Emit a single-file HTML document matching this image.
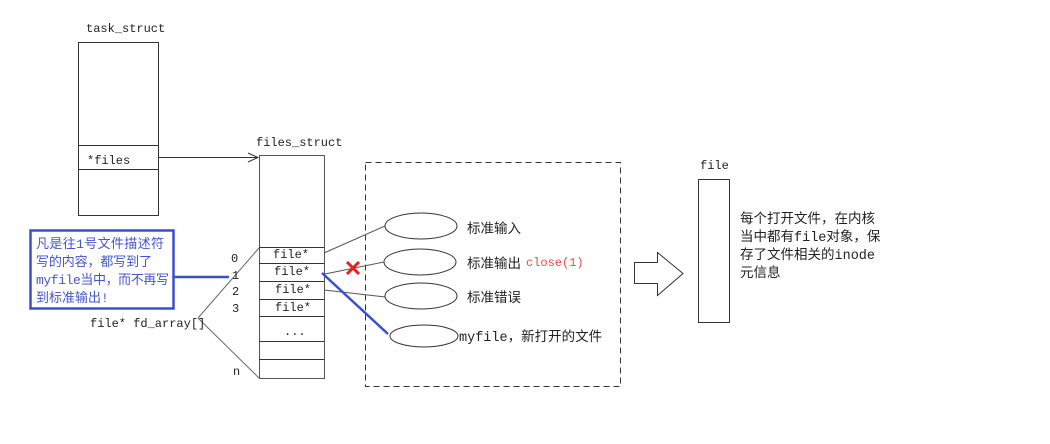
<!DOCTYPE html>
<html><head><meta charset="utf-8"><style>
html,body{margin:0;padding:0;background:#fff}
svg text{font-family:"Liberation Mono","Noto Sans CJK SC",monospace;font-size:12px;fill:#222}
.c{font-family:"Liberation Mono","Noto Sans CJK SC",monospace;font-size:13.5px}
.b{font-family:"Liberation Mono","Noto Sans CJK SC",monospace;font-size:13px;fill:#4455cc}
</style></head><body>
<svg width="1050" height="439" viewBox="0 0 1050 439" xmlns="http://www.w3.org/2000/svg">
<g fill="none" stroke="#333" stroke-width="1">
<rect x="78.5" y="42.5" width="80" height="173"/>
<line x1="78" y1="145.5" x2="158" y2="145.5"/>
<line x1="78" y1="169.5" x2="158" y2="169.5"/>
<line x1="158" y1="157.5" x2="258" y2="157.5"/>
<path d="M248 153 L258 157.5 L248 162"/>
<rect x="259.5" y="155.5" width="65" height="223" stroke="#555"/>
<line x1="259" y1="247.5" x2="324" y2="247.5"/>
<line x1="259" y1="263.5" x2="324" y2="263.5"/>
<line x1="259" y1="281.5" x2="324" y2="281.5"/>
<line x1="259" y1="299.5" x2="324" y2="299.5"/>
<line x1="259" y1="316.5" x2="324" y2="316.5"/>
<line x1="259" y1="341.5" x2="324" y2="341.5"/>
<line x1="259" y1="359.5" x2="324" y2="359.5"/>
<line x1="198" y1="318" x2="259" y2="248" stroke="#666"/>
<line x1="198" y1="318" x2="259" y2="378" stroke="#666"/>
<rect x="365.5" y="162.5" width="255" height="224" stroke-dasharray="6,4"/>
<ellipse cx="421" cy="226" rx="36" ry="13"/>
<ellipse cx="420" cy="262" rx="36" ry="13"/>
<ellipse cx="421" cy="296" rx="36" ry="13"/>
<ellipse cx="424" cy="336" rx="34" ry="11"/>
<line x1="324" y1="253" x2="385" y2="226" stroke="#555"/>
<line x1="325" y1="274" x2="384" y2="262" stroke="#555"/>
<line x1="324" y1="290" x2="385" y2="297" stroke="#555"/>
<rect x="698.5" y="179.5" width="31" height="143"/>
<path d="M634.5 262.5 H657.5 V252.5 L683 273.5 L657.5 295.5 V283.5 H634.5 Z"/>
</g>
<line x1="322" y1="273" x2="388" y2="334" stroke="#3a4fd0" stroke-width="2.5"/>
<rect x="30.5" y="230.5" width="143" height="78" fill="none" stroke="#3a4fd0" stroke-width="2.5"/>
<line x1="174" y1="277" x2="229" y2="277" stroke="#3a4fd0" stroke-width="2.5"/>
<path d="M347 262 L359 274 M359 262 L347 274" stroke="#e52020" stroke-width="3"/>
<text x="86" y="32">task_struct</text>
<text x="87" y="164">*files</text>
<text x="256" y="146">files_struct</text>
<text x="273" y="258">file*</text>
<text x="274" y="275">file*</text>
<text x="275" y="293">file*</text>
<text x="275" y="311">file*</text>
<text x="284" y="335">...</text>
<text x="231" y="262">0</text>
<text x="232" y="279">1</text>
<text x="232" y="295">2</text>
<text x="232" y="312">3</text>
<text x="233" y="375">n</text>
<text x="90" y="327">file* fd_array[]</text>
<text x="700" y="169">file</text>
<text class="b" x="36" y="248" textLength="128">凡是往1号文件描述符</text>
<text class="b" x="36" y="266" textLength="116">写的内容，都写到了</text>
<text class="b" x="36" y="284" textLength="133">myfile当中，而不再写</text>
<text class="b" x="36" y="302">到标准输出!</text>
<text class="c" x="467" y="233">标准输入</text>
<text class="c" x="467" y="268">标准输出</text>
<text x="526" y="266" style="fill:#e84a4a">close(1)</text>
<text class="c" x="467" y="302">标准错误</text>
<text class="c" x="459" y="341">myfile，新打开的文件</text>
<text class="c" x="740" y="223">每个打开文件，在内核</text>
<text class="c" x="740" y="241">当中都有file对象，保</text>
<text class="c" x="740" y="259">存了文件相关的inode</text>
<text class="c" x="740" y="277">元信息</text>
</svg>
</body></html>
